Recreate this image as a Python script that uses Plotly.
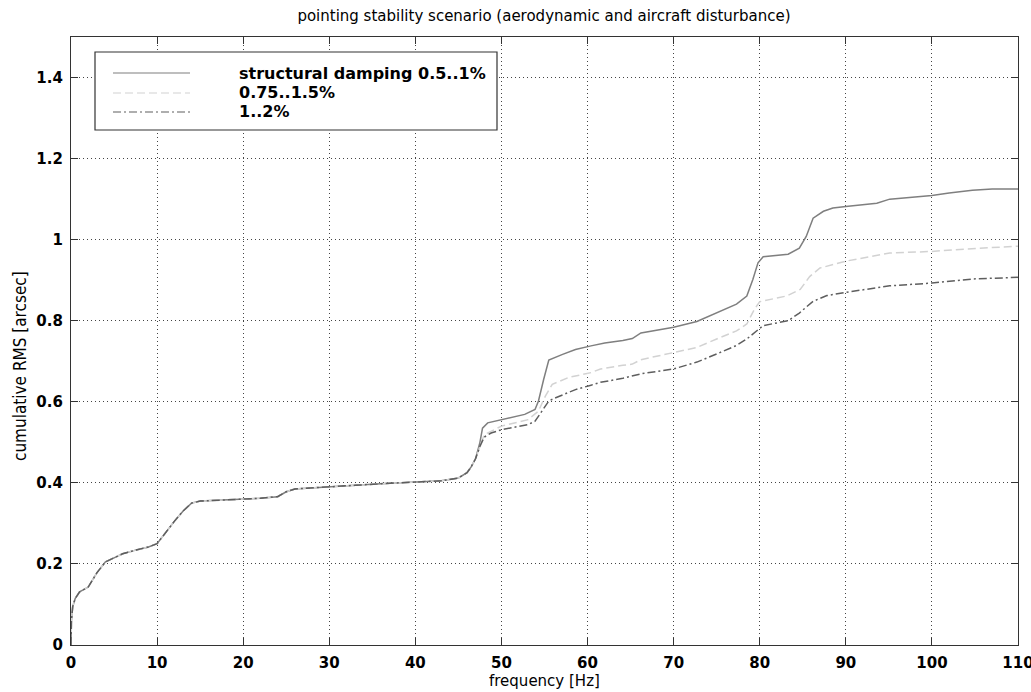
import plotly.graph_objects as go

# Shared low-frequency part: all three damping cases coincide below ~47 Hz
FREQ_LOW = [0, 0.05, 0.2, 0.5, 1, 2, 3, 4, 5, 6, 7.5, 9, 10, 11, 12, 13, 14, 15,
            17, 20, 22, 24, 25, 26, 28, 30, 33, 36, 40, 43, 45, 46, 46.5, 47]
RMS_LOW = [0, 0.06, 0.095, 0.115, 0.131, 0.143, 0.178, 0.205, 0.215, 0.225, 0.234,
           0.242, 0.25, 0.278, 0.305, 0.33, 0.35, 0.355, 0.357, 0.36, 0.362, 0.366,
           0.378, 0.385, 0.388, 0.39, 0.394, 0.398, 0.401, 0.405, 0.412, 0.425, 0.44, 0.46]

# structural damping 0.5..1%
FREQ_A = [47.5, 47.8, 48.4, 50, 52.7, 53.9, 54.3, 54.9, 55.5, 57.1, 58.6, 60.4, 62,
          64.1, 65.2, 66.2, 68, 70, 72.7, 75, 77.3, 78.5, 79.2, 79.8, 80.4, 83.3,
          84.6, 85.4, 86.2, 87.4, 88.5, 90, 93.6, 95.1, 100, 102, 104.7, 107, 110]
RMS_A = [0.5, 0.535, 0.548, 0.556, 0.569, 0.581, 0.602, 0.655, 0.703, 0.717, 0.729,
         0.738, 0.745, 0.751, 0.756, 0.77, 0.777, 0.784, 0.798, 0.82, 0.841, 0.861,
         0.902, 0.943, 0.958, 0.964, 0.979, 1.008, 1.053, 1.07, 1.078, 1.082, 1.09,
         1.1, 1.109, 1.115, 1.122, 1.125, 1.125]

# 0.75..1.5%
FREQ_B = [47.5, 48, 50, 53.1, 54.3, 55.1, 55.9, 57.8, 60.4, 61.5, 64.1, 65.2, 66.2,
          70, 72.7, 75, 77.3, 78.5, 79.4, 80, 83.1, 84.7, 85.8, 87, 90, 95.1, 100,
          104, 110]
RMS_B = [0.49, 0.519, 0.54, 0.556, 0.577, 0.614, 0.643, 0.66, 0.672, 0.681, 0.69,
         0.693, 0.704, 0.722, 0.734, 0.755, 0.775, 0.792, 0.829, 0.847, 0.861, 0.877,
         0.909, 0.93, 0.947, 0.967, 0.971, 0.977, 0.984]

# 1..2%
FREQ_C = [47.5, 48, 48.8, 50, 53.1, 53.9, 54.7, 55.5, 56.3, 58.6, 60.4, 61.5, 64.1,
          66.2, 70, 72.7, 75, 77.3, 78.5, 79.6, 80.4, 83.3, 84.6, 86.2, 87.8, 90,
          95.1, 100, 104.7, 110]
RMS_C = [0.49, 0.513, 0.523, 0.531, 0.544, 0.552, 0.577, 0.602, 0.61, 0.63, 0.641,
         0.648, 0.658, 0.669, 0.681, 0.698, 0.718, 0.739, 0.755, 0.775, 0.788, 0.8,
         0.819, 0.848, 0.862, 0.87, 0.886, 0.893, 0.903, 0.907]

SERIES_NAMES = ["structural damping 0.5..1%", "0.75..1.5%", "1..2%"]
X_TICKS = [0, 10, 20, 30, 40, 50, 60, 70, 80, 90, 100, 110]
Y_TICKS = [0, 0.2, 0.4, 0.6, 0.8, 1.0, 1.2, 1.4]

STYLES = [
    dict(color="#7f7f7f", width=1.5, dash="solid"),
    dict(color="#d2d2d2", width=1.5, dash="8px,4px"),
    dict(color="#5e5e5e", width=1.5, dash="8px,3px,2px,3px"),
]

fig = go.Figure()
series = [(FREQ_A, RMS_A), (FREQ_B, RMS_B), (FREQ_C, RMS_C)]
for name, (fx, ry), st in zip(SERIES_NAMES, series, STYLES):
    fig.add_trace(go.Scatter(x=FREQ_LOW + fx, y=RMS_LOW + ry, mode="lines",
                             name=name, line=st, showlegend=False))

# Plot area in pixels: left 71, right 1018, top 37, bottom 645
W, H = 1031, 692
L, R, T, B = 71, 1018, 37, 645


def px(x):
    return (x - L) / (R - L)


def py(y):
    return (B - y) / (B - T)


shapes = []
annotations = []

# hand-drawn legend box with long line samples
box_l, box_r, box_t, box_b = 95, 497, 52, 130
shapes.append(dict(type="rect", xref="paper", yref="paper",
                   x0=px(box_l), x1=px(box_r), y0=py(box_b), y1=py(box_t),
                   line=dict(color="#333333", width=1.2), fillcolor="white",
                   layer="above"))
rows = [73, 93, 112]
for name, st, ry in zip(SERIES_NAMES, STYLES, rows):
    shapes.append(dict(type="line", xref="paper", yref="paper",
                       x0=px(113), x1=px(190), y0=py(ry), y1=py(ry),
                       line=dict(color=st["color"], width=1.2, dash=st["dash"]),
                       layer="above"))
    annotations.append(dict(text=name, xref="paper", yref="paper",
                            x=px(237), y=py(ry), xanchor="left", yanchor="middle",
                            showarrow=False,
                            font=dict(family="DejaVu Sans", size=16, color="black",
                                      weight="bold")))

# axis titles
annotations.append(dict(text="frequency [Hz]", xref="paper", yref="paper",
                        x=0.5, y=py(681), xanchor="center", yanchor="middle",
                        showarrow=False,
                        font=dict(family="DejaVu Sans", size=15, color="black")))
annotations.append(dict(text="cumulative RMS [arcsec]", xref="paper", yref="paper",
                        x=px(20), y=py(366), xanchor="center", yanchor="middle",
                        textangle=-90, showarrow=False,
                        font=dict(family="Liberation Sans Narrow, DejaVu Sans Condensed, Arial Narrow, sans-serif",
                                  size=17, color="black")))

axis_common = dict(
    showline=True, linecolor="#333333", linewidth=1.2, mirror="ticks",
    ticks="inside", ticklen=7, tickcolor="#333333", tickwidth=1,
    showgrid=True, gridcolor="#444444", gridwidth=1, griddash="1px,3px",
    zeroline=False, ticklabeloverflow="allow", automargin=False,
    tickfont=dict(family="DejaVu Sans", size=15, color="black", weight="bold"),
)

fig.update_layout(
    width=W, height=H,
    margin=dict(l=L, r=W - R, t=T, b=H - B, autoexpand=False),
    paper_bgcolor="white", plot_bgcolor="white",
    title=dict(text="pointing stability scenario (aerodynamic and aircraft disturbance)",
               x=px(544), xref="paper", y=1 - 16 / H, yref="container",
               xanchor="center", yanchor="middle",
               font=dict(family="DejaVu Sans", size=15, color="black")),
    xaxis=dict(range=[0, 110], tickvals=X_TICKS, ticklabelstandoff=4, **axis_common),
    yaxis=dict(range=[0, 1.5], tickvals=Y_TICKS, ticklabelstandoff=4, **axis_common),
    shapes=shapes,
    annotations=annotations,
    showlegend=False,
)

fig.write_html("out.html")
